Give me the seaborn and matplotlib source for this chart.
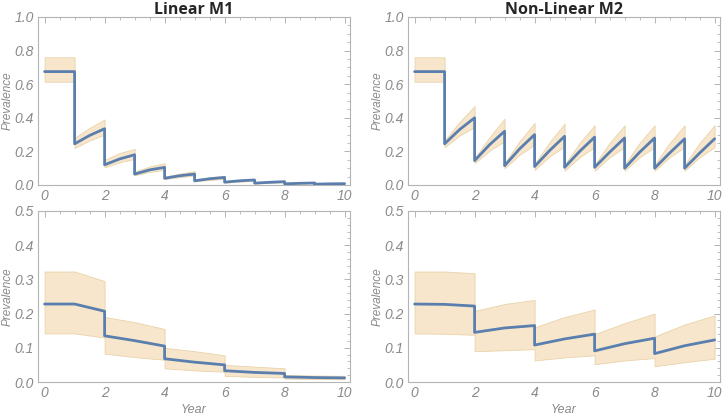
"""
Prevalence over time: Linear M1 vs Non-Linear M2
"""

import numpy as np
import pandas as pd
import matplotlib
matplotlib.use("Agg")
import matplotlib.pyplot as plt
from matplotlib.ticker import MultipleLocator
import seaborn as sns

sns.set_style("white")
plt.rcParams['font.family'] = ['Liberation Sans', 'DejaVu Sans']

# ---- data ----
titles = ['Linear M1', 'Non-Linear M2']

# top row: sawtooth, jump at every year, points at start / middle / end of each year
top_x = [0, 1,
         1, 1.5, 2, 2, 2.5, 3, 3, 3.5, 4, 4, 4.5, 5, 5, 5.5, 6,
         6, 6.5, 7, 7, 7.5, 8, 8, 8.5, 9, 9, 9.5, 10]

m1_top_mean = [0.675, 0.675,
               0.245, 0.295, 0.335, 0.120, 0.155, 0.180, 0.065, 0.090, 0.105,
               0.040, 0.055, 0.065, 0.025, 0.037, 0.045,
               0.017, 0.025, 0.030, 0.011, 0.016, 0.020, 0.007, 0.010, 0.012,
               0.005, 0.007, 0.008]
m1_top_lo = [0.615, 0.615,
             0.220, 0.265, 0.300, 0.105, 0.135, 0.155, 0.058, 0.078, 0.090,
             0.035, 0.047, 0.055, 0.022, 0.030, 0.036,
             0.014, 0.020, 0.024, 0.009, 0.013, 0.016, 0.006, 0.008, 0.010,
             0.004, 0.005, 0.006]
m1_top_hi = [0.760, 0.760,
             0.280, 0.340, 0.390, 0.150, 0.190, 0.215, 0.080, 0.110, 0.130,
             0.050, 0.068, 0.082, 0.032, 0.046, 0.055,
             0.021, 0.031, 0.037, 0.014, 0.020, 0.025, 0.009, 0.012, 0.015,
             0.006, 0.008, 0.010]

m2_top_mean = [0.675, 0.675,
               0.245, 0.330, 0.400, 0.145, 0.240, 0.320, 0.115, 0.215, 0.300,
               0.110, 0.205, 0.290, 0.105, 0.200, 0.285,
               0.105, 0.195, 0.280, 0.100, 0.195, 0.280, 0.100, 0.190, 0.275,
               0.100, 0.190, 0.275]
m2_top_lo = [0.615, 0.615,
             0.225, 0.295, 0.345, 0.130, 0.205, 0.260, 0.100, 0.180, 0.240,
             0.090, 0.170, 0.230, 0.085, 0.165, 0.225,
             0.085, 0.165, 0.225, 0.085, 0.165, 0.225, 0.085, 0.165, 0.225,
             0.085, 0.165, 0.225]
m2_top_hi = [0.760, 0.760,
             0.265, 0.375, 0.470, 0.160, 0.285, 0.395, 0.130, 0.260, 0.370,
             0.125, 0.255, 0.365, 0.120, 0.250, 0.355,
             0.120, 0.250, 0.355, 0.120, 0.250, 0.355, 0.120, 0.250, 0.355,
             0.120, 0.250, 0.355]

# bottom row: jump every second year
bot_x = [0, 1, 2, 2, 3, 4, 4, 5, 6, 6, 7, 8, 8, 9, 10]

m1_bot_mean = [0.228, 0.228, 0.207, 0.135, 0.121, 0.105, 0.068, 0.058, 0.050,
               0.033, 0.028, 0.025, 0.015, 0.013, 0.012]
m1_bot_lo = [0.142, 0.142, 0.130, 0.083, 0.073, 0.065, 0.040, 0.034, 0.030,
             0.018, 0.015, 0.013, 0.010, 0.009, 0.008]
m1_bot_hi = [0.323, 0.323, 0.295, 0.190, 0.175, 0.155, 0.100, 0.090, 0.078,
             0.050, 0.045, 0.040, 0.020, 0.019, 0.018]

m2_bot_mean = [0.228, 0.227, 0.222, 0.145, 0.158, 0.165, 0.108, 0.126, 0.140,
               0.091, 0.112, 0.128, 0.083, 0.106, 0.123]
m2_bot_lo = [0.142, 0.141, 0.138, 0.090, 0.093, 0.096, 0.063, 0.072, 0.078,
             0.052, 0.063, 0.070, 0.046, 0.058, 0.068]
m2_bot_hi = [0.323, 0.323, 0.318, 0.208, 0.228, 0.240, 0.160, 0.190, 0.212,
             0.140, 0.172, 0.200, 0.133, 0.168, 0.195]

LINE = '#5a7fae'
BAND = '#f7e6cc'
BAND_EDGE = '#e9d3a8'
FRAME = '#b4b4b4'
TEXT = '#8a8a8a'

fig = plt.figure(figsize=(7.23, 4.18), dpi=100)

W = 312 / 723
positions = {
    (0, 0): [38 / 723, (418 - 185) / 418, W, 168 / 418],
    (0, 1): [408 / 723, (418 - 185) / 418, W, 168 / 418],
    (1, 0): [38 / 723, (418 - 382) / 418, W, 171 / 418],
    (1, 1): [408 / 723, (418 - 382) / 418, W, 171 / 418],
}

panels = {
    (0, 0): (top_x, m1_top_mean, m1_top_lo, m1_top_hi),
    (0, 1): (top_x, m2_top_mean, m2_top_lo, m2_top_hi),
    (1, 0): (bot_x, m1_bot_mean, m1_bot_lo, m1_bot_hi),
    (1, 1): (bot_x, m2_bot_mean, m2_bot_lo, m2_bot_hi),
}

for (r, c), (x, mean, lo, hi) in panels.items():
    ax = fig.add_axes(positions[(r, c)])
    df = pd.DataFrame({'Year': x, 'Prevalence': mean, 'lo': lo, 'hi': hi})

    ax.fill_between(df['Year'], df['lo'], df['hi'], facecolor=BAND,
                    edgecolor=BAND_EDGE, linewidth=0.6, zorder=1)
    sns.lineplot(data=df, x='Year', y='Prevalence', estimator=None, sort=False,
                 color=LINE, linewidth=2.0, ax=ax, zorder=3)

    ax.set_xlim(-0.22, 10.18)
    if r == 0:
        ax.set_ylim(0, 1.0)
        ax.yaxis.set_major_locator(MultipleLocator(0.2))
        ax.yaxis.set_minor_locator(MultipleLocator(0.05))
        ax.set_title(titles[c], fontsize=11.5, fontweight='bold',
                     family=['Open Sans', 'DejaVu Sans'], pad=2)
        ax.set_xlabel('')
    else:
        ax.set_ylim(0, 0.5)
        ax.yaxis.set_major_locator(MultipleLocator(0.1))
        ax.yaxis.set_minor_locator(MultipleLocator(0.02))
        ax.set_xlabel('Year', fontsize=9, style='italic', color=TEXT, labelpad=3)
    ax.xaxis.set_major_locator(MultipleLocator(2))
    ax.xaxis.set_minor_locator(MultipleLocator(0.5))
    ax.yaxis.set_major_formatter(plt.FuncFormatter(lambda v, p: f'{v:.1f}'))

    ax.set_ylabel('Prevalence', fontsize=8.5, style='italic', color=TEXT,
                  va='center')
    ax.yaxis.set_label_coords(-0.096, 0.5)

    for s in ax.spines.values():
        s.set_visible(True)
        s.set_color(FRAME)
        s.set_linewidth(0.8)
    ax.tick_params(which='both', direction='in', top=True, right=True,
                   color=FRAME, labelcolor=TEXT, labelsize=10, pad=3)
    ax.tick_params(which='major', length=4, width=0.7)
    ax.tick_params(which='minor', length=2, width=0.6)
    for lab in ax.get_xticklabels() + ax.get_yticklabels():
        lab.set_style('italic')

fig.savefig('out.png', dpi=100)
